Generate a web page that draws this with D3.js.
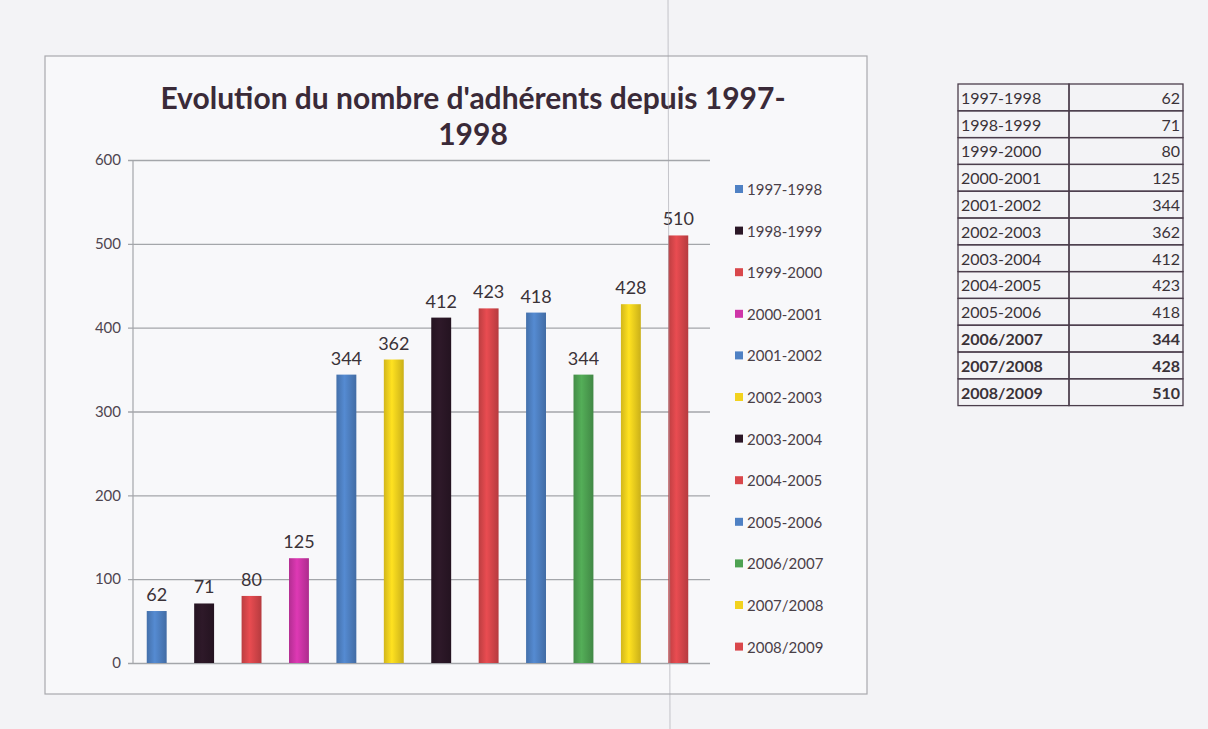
<!DOCTYPE html>
<html>
<head>
<meta charset="utf-8">
<script src="https://cdn.jsdelivr.net/npm/d3@7"></script>
<style>
  body { margin: 0; background: #f2f2f4; }
  svg { display: block; }
</style>
</head>
<body>
<script>
// saisons et nombre d'adherents
var seasons = ["1997-1998", "1998-1999", "1999-2000", "2000-2001", "2001-2002", "2002-2003",
               "2003-2004", "2004-2005", "2005-2006", "2006/2007", "2007/2008", "2008/2009"];
var members = [62, 71, 80, 125, 344, 362, 412, 423, 418, 344, 428, 510];
var barColors = ["#4f81c4", "#2b1726", "#d9474b", "#cf35a8", "#4f81c4", "#f2d21e",
                 "#2b1726", "#d9474b", "#4f81c4", "#4ea252", "#f2d21e", "#d9474b"];
var yTicks = [0, 100, 200, 300, 400, 500, 600];
var boldRows = ["2006/2007", "2007/2008", "2008/2009"];

var width = 1208;
var height = 729;
var font = "Lato, 'Open Sans', sans-serif";

var svg = d3.select("body").append("svg")
    .attr("width", width)
    .attr("height", height);

var defs = svg.append("defs");

// paper background
svg.append("rect")
    .attr("width", width)
    .attr("height", height)
    .style("fill", "#f3f3f6");

/*
 * CHART BOX
 */
svg.append("rect")
    .attr("x", 45)
    .attr("y", 56)
    .attr("width", 822)
    .attr("height", 638)
    .style("fill", "#f8f8fa")
    .style("stroke", "#a9a9ad")
    .style("stroke-width", 1.2);

var title = svg.append("text")
    .attr("text-anchor", "middle")
    .style("font-family", font)
    .style("font-weight", "bold")
    .style("font-size", "30px")
    .style("fill", "#3a2a38");
title.append("tspan").attr("x", 473).attr("y", 109).text("Evolution du nombre d'adhérents depuis 1997-");
title.append("tspan").attr("x", 473).attr("y", 145).text("1998");

var x = d3.scaleBand()
    .domain(seasons)
    .range([133, 702])
    .paddingInner(0.58)
    .paddingOuter(0.29);

var y = d3.scaleLinear()
    .domain([0, 600])
    .range([663, 160]);

// gridlines + y axis
var yAxis = d3.axisLeft(y)
    .tickValues(yTicks)
    .tickSize(-(705 - 128))
    .tickPadding(12);

var yg = svg.append("g")
    .attr("transform", "translate(133,0)")
    .call(yAxis);
yg.select(".domain").remove();
yg.selectAll(".tick line")
    .attr("x1", -5)
    .style("stroke", "#a4a6aa")
    .style("stroke-width", 1.3);
yg.selectAll(".tick text")
    .style("font-family", font)
    .style("font-size", "15px")
    .style("fill", "#4f4650");

svg.append("line")
    .attr("x1", 133).attr("x2", 133)
    .attr("y1", y(600)).attr("y2", y(0))
    .style("stroke", "#a4a6aa")
    .style("stroke-width", 1.2);

// cylinder-like gradients for each bar
barColors.forEach(function(c, i){
    var g = defs.append("linearGradient")
        .attr("id", "grad" + i)
        .attr("x1", "0%").attr("x2", "100%");
    var base = d3.color(c);
    g.append("stop").attr("offset", "0%").attr("stop-color", base.darker(0.4));
    g.append("stop").attr("offset", "40%").attr("stop-color", base.brighter(0.2));
    g.append("stop").attr("offset", "100%").attr("stop-color", base.darker(0.5));
});

svg.append("g").selectAll("rect.bar")
        .data(seasons)
    .enter().append("rect")
        .attr("class", "bar")
        .attr("x", function(d){ return x(d); })
        .attr("y", function(d, i){ return y(members[i]); })
        .attr("width", x.bandwidth())
        .attr("height", function(d, i){ return y(0) - y(members[i]); })
        .style("fill", function(d, i){ return "url(#grad" + i + ")"; });

svg.append("g").selectAll("text.val")
        .data(seasons)
    .enter().append("text")
        .attr("class", "val")
        .attr("x", function(d){ return x(d) + x.bandwidth() / 2; })
        .attr("y", function(d, i){ return y(members[i]) - 10; })
        .attr("text-anchor", "middle")
        .style("font-family", font)
        .style("font-size", "18px")
        .style("fill", "#3a3238")
        .text(function(d, i){ return members[i]; });

/*
 * LEGEND
 */
var legend = svg.append("g").selectAll("g.leg")
        .data(seasons)
    .enter().append("g")
        .attr("class", "leg")
        .attr("transform", function(d, i){
            return "translate(735," + (190 + i * 41.6) + ")";
        });
legend.append("rect")
    .attr("x", 0).attr("y", -5)
    .attr("width", 8).attr("height", 8)
    .style("fill", function(d, i){ return barColors[i]; });
legend.append("text")
    .attr("x", 12)
    .attr("y", 5)
    .style("font-family", font)
    .style("font-size", "15px")
    .style("fill", "#4a4048")
    .text(function(d){ return d; });

// fold of the scanned page
svg.append("line")
    .attr("x1", 668).attr("x2", 670)
    .attr("y1", 0).attr("y2", height)
    .style("stroke", "#a4a4ac")
    .style("stroke-width", 1)
    .style("opacity", 0.6);

/*
 * TABLE
 */
var tX = 958, tY = 84, rowH = 26.8, col1 = 111, col2 = 114;
var table = svg.append("g");
var rows = table.selectAll("g.row")
        .data(seasons)
    .enter().append("g")
        .attr("class", "row")
        .attr("transform", function(d, i){ return "translate(" + tX + "," + (tY + i * rowH) + ")"; });
rows.append("rect")
    .attr("width", col1).attr("height", rowH)
    .style("fill", "none").style("stroke", "#4b3d4c").style("stroke-width", 1.3);
rows.append("rect")
    .attr("x", col1)
    .attr("width", col2).attr("height", rowH)
    .style("fill", "none").style("stroke", "#4b3d4c").style("stroke-width", 1.3);
rows.append("text")
    .attr("x", 3).attr("y", rowH - 7)
    .style("font-family", font)
    .style("font-size", "16px")
    .style("font-weight", function(d){ return boldRows.indexOf(d) >= 0 ? "bold" : "normal"; })
    .style("fill", "#3a3238")
    .text(function(d){ return d; });
rows.append("text")
    .attr("x", col1 + col2 - 3).attr("y", rowH - 7)
    .attr("text-anchor", "end")
    .style("font-family", font)
    .style("font-size", "16px")
    .style("font-weight", function(d){ return boldRows.indexOf(d) >= 0 ? "bold" : "normal"; })
    .style("fill", "#3a3238")
    .text(function(d, i){ return members[i]; });
</script>
</body>
</html>
